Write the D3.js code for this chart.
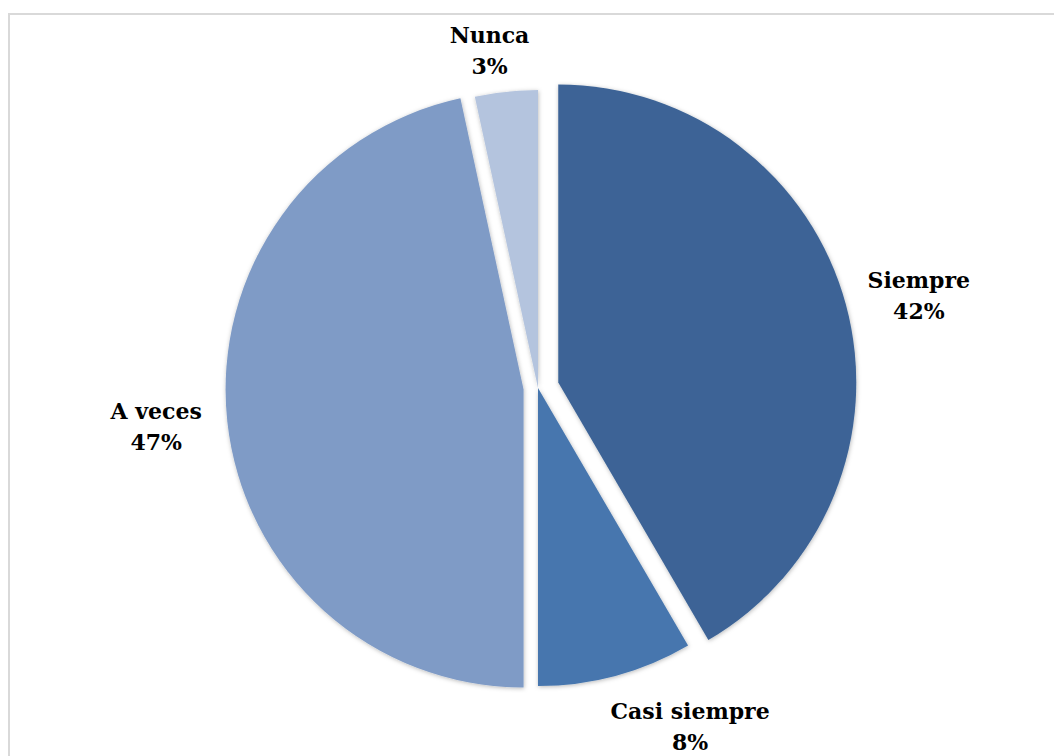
<!DOCTYPE html>
<html>
<head>
<meta charset="utf-8">
<script src="https://cdn.jsdelivr.net/npm/d3@7"></script>
<style>
  html, body { margin: 0; padding: 0; background: #ffffff; }
  svg { display: block; }
</style>
</head>
<body>
<div id="chart"></div>
<script>
// ---- data ----
const categories = ["Siempre", "Casi siempre", "A veces", "Nunca"];
const values = [41.6, 8.4, 46.6, 3.4];           // percent shares
const percentLabels = ["42%", "8%", "47%", "3%"];

// ---- layout / style (not data) ----
const W = 1054, H = 756;
const cx = 538, cy = 388, R = 298;
const explode = [21, 0, 14.5, 0];               // slice pull-out in px
const colors = ["#3d6496", "#4676ae", "#7f9bc6", "#b4c4de"];
const labelRadius = 380;
const labelNudge = [[14, 7], [53, -28], [-4, -2], [-8, 40]];
const lineGap = 31;

const svg = d3.select("#chart").append("svg")
  .attr("width", W).attr("height", H);

// chart border
svg.append("rect")
  .attr("x", 9).attr("y", 14)
  .attr("width", W + 20).attr("height", H + 20)
  .attr("fill", "#ffffff")
  .attr("stroke", "#d9d9d9").attr("stroke-width", 2);

const defs = svg.append("defs");
const f = defs.append("filter").attr("id", "sh")
  .attr("x", "-10%").attr("y", "-10%").attr("width", "120%").attr("height", "120%");
f.append("feDropShadow")
  .attr("dx", 0.5).attr("dy", 1).attr("stdDeviation", 2.2)
  .attr("flood-color", "#000").attr("flood-opacity", 0.28);

const pie = d3.pie().sort(null).value(d => d.v).startAngle(0).endAngle(2 * Math.PI);
const arcs = pie(values.map((v, i) => ({ v, i })));
const arcGen = d3.arc().innerRadius(0).outerRadius(R);
const labelArc = d3.arc().innerRadius(labelRadius).outerRadius(labelRadius);

const g = svg.append("g").attr("transform", `translate(${cx},${cy})`);

g.selectAll("path.slice").data(arcs).enter().append("path")
  .attr("class", "slice")
  .attr("d", arcGen)
  .attr("fill", d => colors[d.data.i])
  .attr("filter", "url(#sh)")
  .attr("transform", d => {
    const a = (d.startAngle + d.endAngle) / 2;
    const o = explode[d.data.i];
    return `translate(${o * Math.sin(a)},${-o * Math.cos(a)})`;
  });

const lbl = g.selectAll("text.lbl").data(arcs).enter().append("text")
  .attr("class", "lbl")
  .attr("text-anchor", "middle")
  .attr("font-family", "'DejaVu Serif', serif")
  .attr("font-weight", "bold")
  .attr("font-size", 22)
  .attr("fill", "#000")
  .each(function (d) {
    const [x0, y0] = labelArc.centroid(d);
    const [nx, ny] = labelNudge[d.data.i];
    const x = x0 + nx, y = y0 + ny;
    const t = d3.select(this);
    t.append("tspan").attr("x", x).attr("y", y - lineGap / 2).attr("dy", "0.36em")
      .text(categories[d.data.i]);
    t.append("tspan").attr("x", x).attr("y", y + lineGap / 2).attr("dy", "0.36em")
      .text(percentLabels[d.data.i]);
  });
</script>
</body>
</html>
